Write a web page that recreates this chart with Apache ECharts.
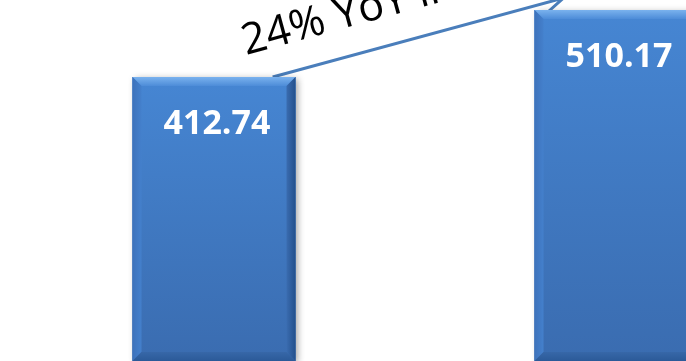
<!DOCTYPE html>
<html>
<head>
<meta charset="utf-8">
<style>
  html, body { margin: 0; padding: 0; background: #ffffff; }
  #chart { width: 686px; height: 361px; }
</style>
<script src="https://cdn.jsdelivr.net/npm/echarts@6/dist/echarts.min.js"></script>
</head>
<body>
<div id="chart"></div>
<script>
// Revenue for two consecutive years
const categories = ['Year 1', 'Year 2'];
const values = [412.74, 510.17];
const growthText = '24% YoY increase';

const BAR_WIDTH = 163;
const BEVEL = 9;

const chart = echarts.init(document.getElementById('chart'), null, { renderer: 'canvas' });

// Bevelled bar: face + four sloped edges + soft drop shadow
function renderBevelBar(params, api) {
  const top = api.coord([api.value(0), api.value(1)]);
  const base = api.coord([api.value(0), 0]);
  const w = BAR_WIDTH, b = BEVEL;
  const x0 = top[0] - w / 2, x1 = top[0] + w / 2;
  const y0 = top[1], y1 = base[1];
  const grad = (c0, c1, horiz) => new echarts.graphic.LinearGradient(0, 0, horiz ? 1 : 0, horiz ? 0 : 1,
    [{ offset: 0, color: c0 }, { offset: 1, color: c1 }]);
  return {
    type: 'group',
    children: [
      { type: 'rect', shape: { x: x0, y: y0, width: w, height: y1 - y0 },
        style: { fill: '#3b6fb4', shadowBlur: 7, shadowOffsetX: 3, shadowOffsetY: 2,
                 shadowColor: 'rgba(0,0,0,0.38)' } },
      { type: 'rect', shape: { x: x0, y: y0, width: w, height: y1 - y0 },
        style: { fill: grad('#4686d3', '#3a6cb0') } },
      // top edge (lit)
      { type: 'polygon', shape: { points: [[x0, y0], [x1, y0], [x1 - b, y0 + b], [x0 + b, y0 + b]] },
        style: { fill: grad('#7ab2ee', '#4d8cd8') } },
      // left edge
      { type: 'polygon', shape: { points: [[x0, y0], [x0 + b, y0 + b], [x0 + b, y1 - b], [x0, y1]] },
        style: { fill: grad('#3d72bb', '#4480cc', true) } },
      // right edge (shaded)
      { type: 'polygon', shape: { points: [[x1, y0], [x1, y1], [x1 - b, y1 - b], [x1 - b, y0 + b]] },
        style: { fill: grad('#3a6cb0', '#23508c', true) } },
      // bottom edge (shaded)
      { type: 'polygon', shape: { points: [[x0, y1], [x0 + b, y1 - b], [x1 - b, y1 - b], [x1, y1]] },
        style: { fill: grad('#3767a8', '#2b5a98') } },
      // value label
      { type: 'text', x: top[0] + 3, y: y0 + 47,
        style: { text: api.value(1).toFixed(2), fill: '#ffffff',
                 font: 'bold 34px "Open Sans", Carlito, sans-serif',
                 align: 'center', verticalAlign: 'middle' } }
    ]
  };
}

// Bars sit at x = 0, 1 on a numeric axis so the second bar can run past the right edge
chart.setOption({
  animation: false,
  backgroundColor: '#ffffff',
  grid: { left: 0, right: 0, top: 0, bottom: 0 },
  xAxis: {
    type: 'value', min: -0.5323, max: 1.1741,
    axisLine: { show: false }, axisTick: { show: false }, axisLabel: { show: false },
    splitLine: { show: false }
  },
  yAxis: {
    type: 'value', min: 0, max: 524.7,
    axisLine: { show: false }, axisTick: { show: false }, axisLabel: { show: false },
    splitLine: { show: false }
  },
  series: [{
    type: 'custom',
    name: 'Revenue',
    renderItem: renderBevelBar,
    data: values.map((v, i) => ({ name: categories[i], value: [i, v] })),
    clip: false
  }]
});

// Growth connector: rises from the first bar's top to a peak and drops onto the second bar
const top1 = chart.convertToPixel({ seriesIndex: 0 }, [0, values[0]]);
const top2 = chart.convertToPixel({ seriesIndex: 0 }, [1, values[1]]);
const half = BAR_WIDTH / 2;
const start = [top1[0] + half * 0.72, top1[1]];
const peak = [top2[0] - half + 29, top2[1] - 12];
const end = [top2[0] - half + 10, top2[1] + 5];
const ang = Math.atan2(start[1] - peak[1], peak[0] - start[0]);
const dir = [Math.cos(ang), -Math.sin(ang)];
const nrm = [-Math.sin(ang), -Math.cos(ang)];
const along = -20, off = 19;
const textPos = [start[0] + dir[0] * along + nrm[0] * off, start[1] + dir[1] * along + nrm[1] * off];

chart.setOption({
  graphic: [
    { type: 'polyline', shape: { points: [start, peak, end] },
      style: { stroke: '#4a7ebb', lineWidth: 3, fill: null } },
    { type: 'text', x: textPos[0], y: textPos[1], rotation: ang, originX: 0, originY: 0,
      style: { text: growthText, fill: '#000000', font: '43px "Open Sans", Carlito, sans-serif',
               align: 'left', verticalAlign: 'bottom' } }
  ]
});
</script>
</body>
</html>
